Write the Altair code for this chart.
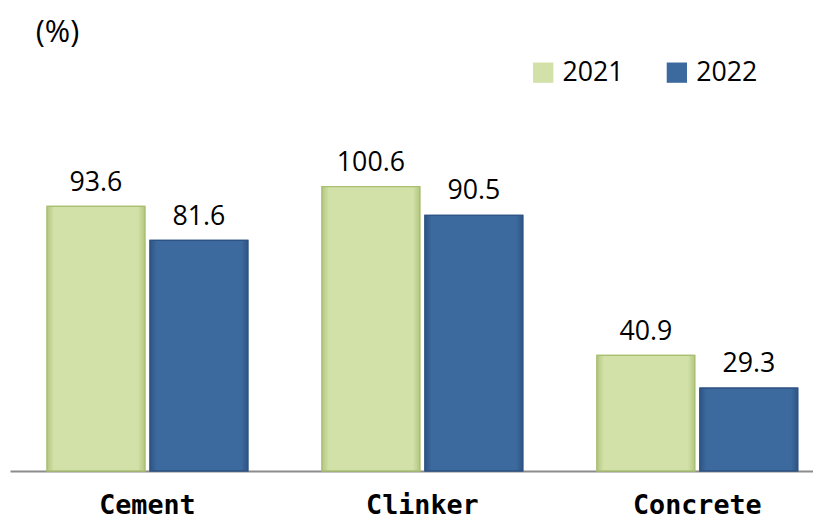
import altair as alt
import pandas as pd

categories = ["Cement", "Clinker", "Concrete"]
years = ["2021", "2022"]
values_2021 = [93.6, 100.6, 40.9]
values_2022 = [81.6, 90.5, 29.3]
colors = ["#D2E1A8", "#3D6A9E"]
edge_colors = ["#B3C680", "#2E5585"]
stroke_colors = ["#A9BF72", "#2C5282"]
unit_label = "(%)"

rows = []
for c, v1, v2 in zip(categories, values_2021, values_2022):
    rows.append({"category": c, "year": "2021", "value": v1})
    rows.append({"category": c, "year": "2022", "value": v2})
df = pd.DataFrame(rows)

x = alt.X("category:N", sort=categories, title=None,
          scale=alt.Scale(range=[0, 833], paddingInner=0, paddingOuter=0),
          axis=alt.Axis(labelFont="DejaVu Sans Mono", labelFontWeight="bold",
                        labelFontSize=27, labelColor="#000000", labelAngle=0,
                        labelBaseline="alphabetic", labelPadding=43,
                        ticks=False, domainColor="#8C8C8C", domainWidth=2))
xo = alt.XOffset("year:N", sort=years,
                 scale=alt.Scale(paddingInner=0.05, paddingOuter=0.36))
y = alt.Y("value:Q", scale=alt.Scale(domain=[0, 130]), axis=None)

bars = alt.Chart(df).mark_bar(strokeWidth=1.2).encode(
    x=x, xOffset=xo, y=y,
    color=alt.Color("year:N", sort=years,
                    scale=alt.Scale(domain=years, range=colors),
                    legend=alt.Legend(title=None, orient="none", direction="horizontal",
                                      legendX=525, legendY=-45,
                                      symbolType="square", symbolSize=420,
                                      symbolStrokeWidth=0, symbolOpacity=1,
                                      labelFont="Open Sans", labelFontSize=27,
                                      labelColor="#000000", labelOffset=6,
                                      columnPadding=40)),
    stroke=alt.Stroke("year:N", sort=years,
                      scale=alt.Scale(domain=years, range=stroke_colors),
                      legend=None),
)


def bevel_layer(i):
    grad = {
        "gradient": "linear", "x1": 0, "y1": 0, "x2": 1, "y2": 0,
        "stops": [
            {"offset": 0, "color": edge_colors[i]},
            {"offset": 0.07, "color": colors[i]},
            {"offset": 0.93, "color": colors[i]},
            {"offset": 1, "color": edge_colors[i]},
        ],
    }
    return alt.Chart(df).transform_filter(
        alt.datum.year == years[i]
    ).mark_bar(strokeWidth=1.2, stroke=stroke_colors[i]).encode(
        x=x, xOffset=xo, y=y, fill=alt.value(grad)
    )


labels = alt.Chart(df).mark_text(font="Open Sans", fontSize=27, baseline="alphabetic",
                                 dy=-16, color="#000000").encode(
    x=x, xOffset=xo, y=y, text=alt.Text("value:Q", format=".1f"))

unit = alt.Chart(pd.DataFrame({"t": [unit_label]})).mark_text(
    font="Open Sans", fontSize=31, align="left", baseline="alphabetic", color="#000000"
).encode(x=alt.value(26), y=alt.value(-62), text="t:N")

chart = alt.layer(bars, bevel_layer(0), bevel_layer(1), labels, unit).properties(
    width=811, height=371,
    autosize=alt.AutoSizeParams(type="none"),
    padding={"left": 2, "top": 94, "right": 0, "bottom": 49},
).configure_view(stroke=None)

chart.save("out.html", embed_options={"renderer": "svg", "actions": False})
